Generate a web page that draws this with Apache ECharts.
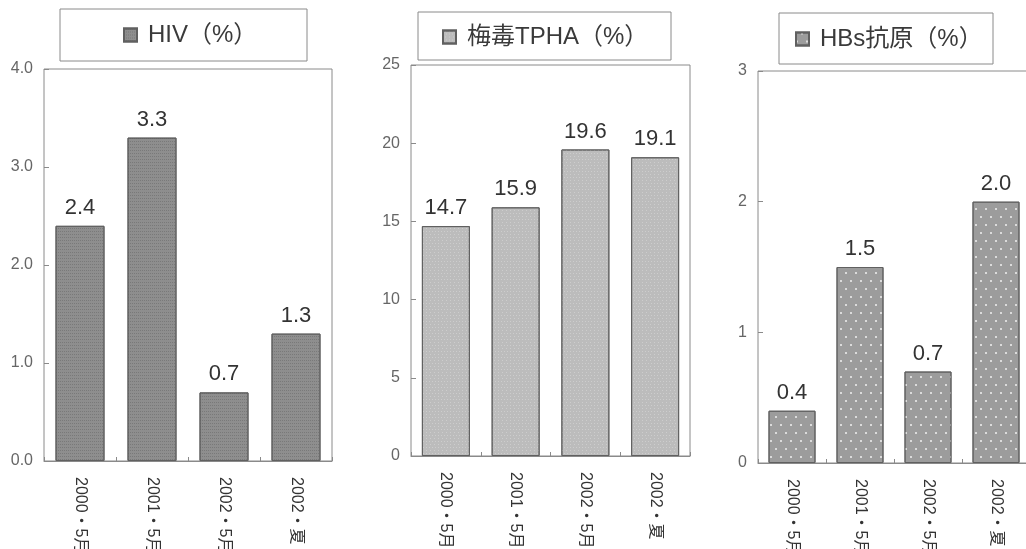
<!DOCTYPE html>
<html>
<head>
<meta charset="utf-8">
<script src="https://cdn.jsdelivr.net/npm/echarts@6/dist/echarts.min.js"></script>
<style>
  html, body { margin: 0; padding: 0; background: #fff; }
  #chart { width: 1026px; height: 549px; }
</style>
</head>
<body>
<div id="chart"></div>
<script>
// Survey periods shared by the three panels
const periods = ['2000・5月', '2001・5月', '2002・5月', '2002・夏'];

// Positive rates (%)
const hivValues = [2.4, 3.3, 0.7, 1.3];
const syphilisValues = [14.7, 15.9, 19.6, 19.1];
const hbsValues = [0.4, 1.5, 0.7, 2.0];

const seriesNames = ['HIV（%）', '梅毒TPHA（%）', 'HBs抗原（%）'];
const yMax = [4, 25, 3];
const yStep = [1, 5, 1];

const FONT = "'Liberation Sans', 'Noto Sans CJK JP', sans-serif";

const grids = [
  { left: 44, top: 69, width: 288, height: 392 },
  { left: 411, top: 65, width: 279, height: 391 },
  { left: 758, top: 71, width: 272, height: 392 }
];
const boxes = [
  { x: 60, y: 9, width: 247, height: 52 },
  { x: 418, y: 12, width: 253, height: 48 },
  { x: 779, y: 13, width: 214, height: 51 }
];
const legendPos = [
  { left: 123, top: 23 },
  { left: 442, top: 25 },
  { left: 795, top: 27 }
];
const barWidths = [49, 48, 47];
const fills = ['#8e8e8e', '#bcbcbc', '#9c9c9c'];
const decals = [
  { symbol: 'rect', symbolSize: 1, color: 'rgba(60,60,60,0.25)', dashArrayX: [1, 1], dashArrayY: [1, 2] },
  { symbol: 'circle', symbolSize: 1, color: 'rgba(255,255,255,0.35)', dashArrayX: [[1, 2], [0, 1.5, 1, 0.5]], dashArrayY: [1, 2] },
  { symbol: 'circle', symbolSize: 1, color: 'rgba(255,255,255,0.85)', dashArrayX: [[2, 8], [0, 5, 2, 3]], dashArrayY: [2, 6] }
];
const values = [hivValues, syphilisValues, hbsValues];

const chart = echarts.init(document.getElementById('chart'), null, { renderer: 'canvas' });

const option = {
  backgroundColor: '#fff',
  animation: false,
  textStyle: { fontFamily: FONT },
  grid: grids.map(g => Object.assign({
    show: true,
    borderColor: '#8a8a8a',
    borderWidth: 1,
    backgroundColor: '#fff',
    containLabel: false,
    outerBoundsMode: 'none'
  }, g)),
  graphic: boxes.map(b => ({
    type: 'rect',
    shape: b,
    style: { fill: 'none', stroke: '#8a8a8a', lineWidth: 1 },
    z: 10
  })),
  legend: seriesNames.map((name, i) => ({
    data: [name],
    left: legendPos[i].left,
    top: legendPos[i].top,
    padding: 0,
    itemWidth: 13,
    itemHeight: 13,
    icon: 'rect',
    selectedMode: false,
    textStyle: { fontSize: 24, color: '#3a3a3a', fontFamily: FONT, padding: [0, 0, 0, 6] }
  })),
  xAxis: grids.map((g, i) => ({
    type: 'category',
    gridIndex: i,
    data: periods,
    axisLine: { show: true, lineStyle: { color: '#8a8a8a', width: 1 } },
    axisTick: { show: true, inside: true, length: 4, lineStyle: { color: '#8a8a8a' } },
    axisLabel: { rotate: -90, interval: 0, margin: 16, fontSize: 16, color: '#333', fontFamily: FONT }
  })),
  yAxis: grids.map((g, i) => ({
    type: 'value',
    gridIndex: i,
    min: 0,
    max: yMax[i],
    interval: yStep[i],
    axisLine: { show: false },
    axisTick: { show: true, inside: true, length: 5, lineStyle: { color: '#8a8a8a' } },
    splitLine: { show: false },
    axisLabel: {
      margin: 11,
      fontSize: 16,
      color: '#666',
      fontFamily: FONT,
      formatter: i === 0 ? (v => v.toFixed(1)) : (v => String(v))
    }
  })),
  series: seriesNames.map((name, i) => ({
    name: name,
    type: 'bar',
    xAxisIndex: i,
    yAxisIndex: i,
    data: values[i],
    barWidth: barWidths[i],
    itemStyle: { color: fills[i], borderColor: '#606060', borderWidth: 1, decal: decals[i] },
    label: {
      show: true,
      position: 'top',
      distance: 7,
      fontSize: 22,
      color: '#333',
      fontFamily: FONT,
      formatter: p => p.value.toFixed(1)
    }
  }))
};

chart.setOption(option);
</script>
</body>
</html>
